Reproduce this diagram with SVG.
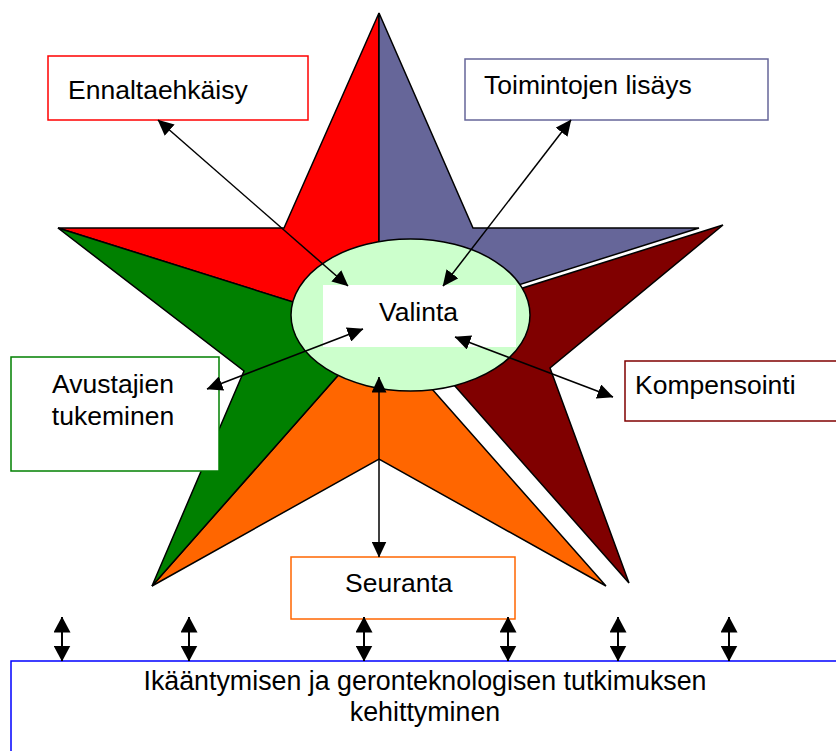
<svg xmlns="http://www.w3.org/2000/svg" width="836" height="751" viewBox="0 0 836 751">
<style>
.piece{stroke:#000;stroke-width:1.5;stroke-linejoin:miter}
.box{fill:#fff;stroke-width:1.5}
.lbl{font-family:"Liberation Sans",Arial,sans-serif;font-size:26.5px;fill:#000}
.big{font-size:26.8px}
.conn{stroke:#000;stroke-width:1.5;fill:none}
.bconn{stroke:#000;stroke-width:2;fill:none}
</style>
<defs>
<marker id="ah" markerUnits="userSpaceOnUse" viewBox="0 0 16 15" refX="15.5" refY="7.5" markerWidth="16" markerHeight="15" orient="auto-start-reverse">
<path d="M0,0 L16,7.5 L0,15 z" fill="#000"/>
</marker>
<marker id="bh" markerUnits="userSpaceOnUse" viewBox="0 0 16 17" refX="15.5" refY="8.5" markerWidth="16" markerHeight="17" orient="auto-start-reverse">
<path d="M0,0 L16,8.5 L0,17 z" fill="#000"/>
</marker>
</defs>
<g id="star">
<polygon class="piece" fill="#ff0000" points="379,329 58,228 284,228 379,13"/>
<polygon class="piece" fill="#666699" points="379,329 379,13 473,228 699,228"/>
<polygon class="piece" fill="#800000" points="402,326 723,225 550,368 629,583"/>
<polygon class="piece" fill="#ff6600" points="379,329 606,586 379,459 152,586"/>
<polygon class="piece" fill="#008000" points="379,329 152,586 244,371 58,228"/>
</g>
<g id="valinta">
<ellipse cx="410.5" cy="315" rx="119.5" ry="76" fill="#ccffcc" stroke="#000" stroke-width="1.5"/>
<rect x="323" y="285" width="193" height="62" fill="#fff"/>
<text class="lbl" x="379" y="321">Valinta</text>
</g>
<g id="ennaltaehkaisy">
<rect class="box" x="48" y="56" width="260" height="64" stroke="#ff0000"/>
<text class="lbl" x="68" y="99">Ennaltaehkäisy</text>
</g>
<g id="toimintojen">
<rect class="box" x="465" y="59" width="303" height="61" stroke="#666699"/>
<text class="lbl" x="484" y="94">Toimintojen lisäys</text>
</g>
<g id="avustajien">
<rect class="box" x="11" y="357" width="208" height="114" stroke="#008000"/>
<text class="lbl" x="113" y="393" text-anchor="middle">Avustajien</text>
<text class="lbl" x="113" y="425" text-anchor="middle">tukeminen</text>
</g>
<g id="kompensointi">
<rect class="box" x="625" y="361" width="215" height="60" stroke="#800000"/>
<text class="lbl" x="635" y="394">Kompensointi</text>
</g>
<g id="seuranta">
<rect class="box" x="291" y="557" width="224" height="62" stroke="#ff6600"/>
<text class="lbl" x="345" y="592">Seuranta</text>
</g>
<g id="kehittyminen">
<rect class="box" x="11" y="661" width="829" height="100" stroke="#0000ff" stroke-width="2"/>
<text class="lbl big" x="425" y="690" text-anchor="middle">Ikääntymisen ja geronteknologisen tutkimuksen</text>
<text class="lbl big" x="425" y="721" text-anchor="middle">kehittyminen</text>
</g>
<g id="connectors">
<line class="conn" x1="158" y1="120" x2="348" y2="286" marker-start="url(#ah)" marker-end="url(#ah)"/>
<line class="conn" x1="571" y1="120" x2="443" y2="286" marker-start="url(#ah)" marker-end="url(#ah)"/>
<line class="conn" x1="207" y1="389" x2="363" y2="329" marker-start="url(#ah)" marker-end="url(#ah)"/>
<line class="conn" x1="613" y1="397" x2="455" y2="337" marker-start="url(#ah)" marker-end="url(#ah)"/>
<line class="conn" x1="379" y1="377" x2="379" y2="557" marker-start="url(#ah)" marker-end="url(#ah)"/>
<line class="bconn" x1="62" y1="617" x2="62" y2="661" marker-start="url(#bh)" marker-end="url(#bh)"/>
<line class="bconn" x1="189" y1="617" x2="189" y2="661" marker-start="url(#bh)" marker-end="url(#bh)"/>
<line class="bconn" x1="364" y1="617" x2="364" y2="661" marker-start="url(#bh)" marker-end="url(#bh)"/>
<line class="bconn" x1="508" y1="617" x2="508" y2="661" marker-start="url(#bh)" marker-end="url(#bh)"/>
<line class="bconn" x1="618" y1="617" x2="618" y2="661" marker-start="url(#bh)" marker-end="url(#bh)"/>
<line class="bconn" x1="729" y1="617" x2="729" y2="661" marker-start="url(#bh)" marker-end="url(#bh)"/>
</g>
</svg>
